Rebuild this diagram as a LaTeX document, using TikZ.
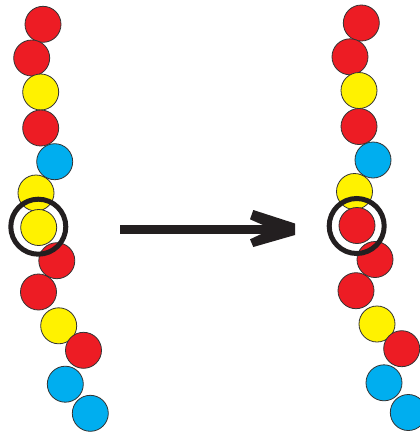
\documentclass[tikz,border=0pt]{standalone}
\begin{document}
\begin{tikzpicture}[x=1pt,y=-1pt,
  bead/.style={circle, draw=black!80, line width=0.8pt, minimum size=36pt, inner sep=0pt},
  rd/.style={bead, fill=beadred},
  yl/.style={bead, fill=beadyellow},
  bl/.style={bead, fill=beadblue},
  ring/.style={circle, draw=ringblack, line width=5pt, minimum size=55pt, inner sep=0pt},
  arrowline/.style={draw=ringblack, line width=9pt}]
\definecolor{beadred}{HTML}{ED1C24}
\definecolor{beadyellow}{HTML}{FFF200}
\definecolor{beadblue}{HTML}{00AEEF}
\definecolor{ringblack}{HTML}{231F20}
\fill[white] (0,0) rectangle (420,432);
\useasboundingbox (0,0) rectangle (420,432);
\clip (0,0) rectangle (420,432);
% left chain
\node[rd] (L1) at (43,24.3) {};
\node[rd] (L2) at (31.7,58) {};
\node[yl] (L3) at (40.7,92) {};
\node[rd] (L4) at (40.7,128) {};
\node[bl] (L5) at (54.7,161.7) {};
\node[yl] (L6) at (36,193) {};
\node[yl] (L7) at (38.7,227.5) {};
\node[rd] (L8) at (56.8,260.7) {};
\node[rd] (L9) at (38.5,292) {};
\node[yl] (L10) at (58.7,325.8) {};
\node[rd] (L11) at (83.5,350.3) {};
\node[bl] (L12) at (65.3,384.2) {};
\node[bl] (L13) at (90.3,413.3) {};
\node[ring] (LR) at (38.3,226.7) {};
% right chain
\node[rd] (R1) at (361.3,23) {};
\node[rd] (R2) at (350,56.8) {};
\node[yl] (R3) at (359,90.5) {};
\node[rd] (R4) at (359,126.5) {};
\node[bl] (R5) at (373,160) {};
\node[yl] (R6) at (354.5,191.5) {};
\node[rd] (R7) at (357,225.5) {};
\node[rd] (R8) at (375,259.5) {};
\node[rd] (R9) at (356,290.7) {};
\node[yl] (R10) at (377,324) {};
\node[rd] (R11) at (401.7,348.7) {};
\node[bl] (R12) at (384,382.8) {};
\node[bl] (R13) at (408.3,412.5) {};
\node[ring] (RR) at (356.7,226) {};
% arrow
\coordinate (as) at (120,229);
\coordinate (ae) at (276,229);
\coordinate (tip) at (295,229);
\draw[arrowline] (as) -- (ae);
\fill[ringblack] ([shift={(-41.7,-19)}]tip) -- ([shift={(0,-5.5)}]tip) -- ([shift={(0,6)}]tip)
  -- ([shift={(-41.7,18)}]tip) -- ([shift={(-45,10.3)}]tip) -- ([shift={(-23,0)}]tip)
  -- ([shift={(-45,-9.7)}]tip) -- cycle;
\end{tikzpicture}
\end{document}
